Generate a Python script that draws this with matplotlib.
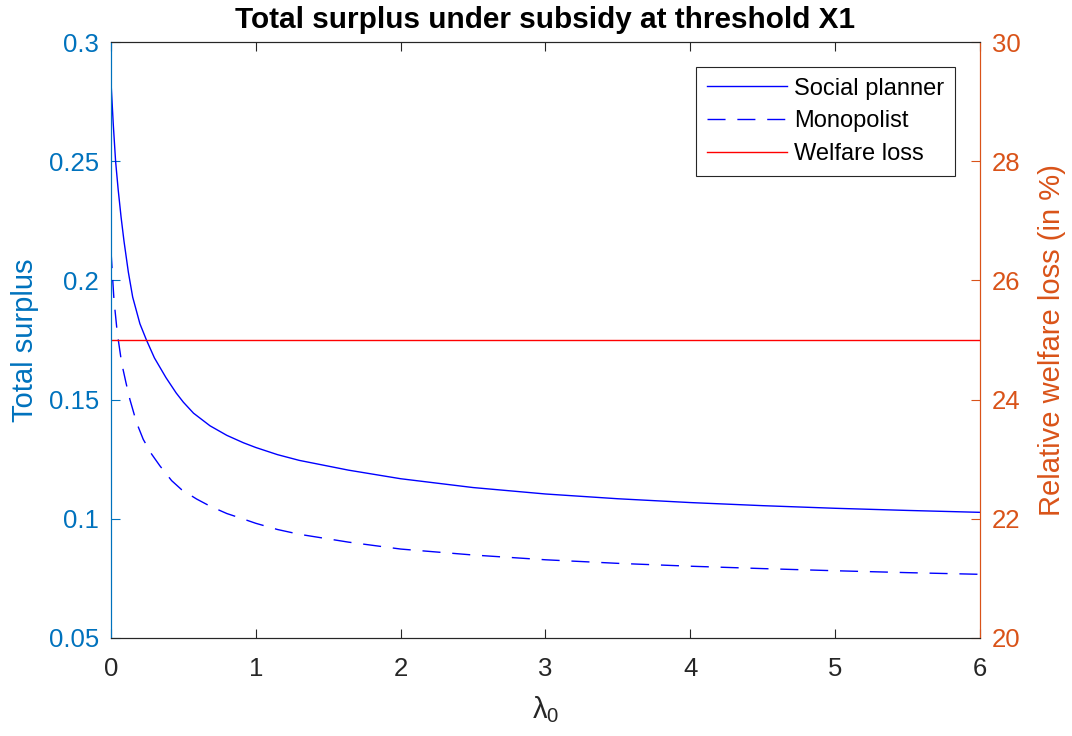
import matplotlib.pyplot as plt

plt.rcParams['font.family'] = ['Liberation Sans', 'DejaVu Sans']
plt.rcParams['mathtext.fontset'] = 'custom'
plt.rcParams['mathtext.rm'] = 'Liberation Sans'
plt.rcParams['mathtext.it'] = 'Liberation Sans:italic'

# values
lam_planner = [0, 0.016, 0.032, 0.05, 0.07, 0.09, 0.12, 0.15, 0.2, 0.245,
               0.3, 0.38, 0.45, 0.5, 0.57, 0.684, 0.8, 0.914, 1.0, 1.15,
               1.3, 1.64, 2.0, 2.5, 3.0, 3.5, 4.0, 4.5, 5.0, 5.5, 6.0]
surplus_planner = [0.2836, 0.2655, 0.2500, 0.2380, 0.2265, 0.2165, 0.2035, 0.1930, 0.1818, 0.1750,
                   0.1675, 0.1592, 0.1528, 0.1489, 0.1443, 0.1390, 0.1350, 0.1319, 0.1299, 0.1269,
                   0.1245, 0.1204, 0.1168, 0.1131, 0.1104, 0.1084, 0.1068, 0.1055, 0.1044, 0.1035, 0.1027]

lam_mono = [0, 0.011, 0.021, 0.044, 0.074, 0.104, 0.131, 0.177, 0.223, 0.281,
            0.338, 0.419, 0.488, 0.591, 0.684, 0.8, 0.914, 1.0, 1.15, 1.3,
            1.64, 2.0, 2.5, 3.0, 3.5, 4.0, 4.5, 5.0, 5.5, 6.0]
surplus_mono = [0.2127, 0.2015, 0.1917, 0.1778, 0.1653, 0.1570, 0.1500, 0.1403, 0.1333, 0.1271,
                0.1222, 0.1160, 0.1122, 0.1083, 0.1053, 0.1022, 0.0999, 0.0981, 0.0955, 0.0935,
                0.0902, 0.0873, 0.0848, 0.0828, 0.0813, 0.0801, 0.0791, 0.0782, 0.0774, 0.0767]

lam_loss = [0, 6]
welfare_loss = [25.0, 25.0]

blue_ax = '#0072BD'
orange_ax = '#D95319'
dark = '#262626'

fig = plt.figure(figsize=(10.72, 7.36), dpi=100)
ax = fig.add_axes([0.1035, 0.1332, 0.8107, 0.8097])
ax2 = ax.twinx()

l1, = ax.plot(lam_planner, surplus_planner, color='blue', lw=1.0)
l2, = ax.plot(lam_mono, surplus_mono, color='blue', lw=1.0, linestyle=(0, (13, 8.5)))
l3, = ax2.plot(lam_loss, welfare_loss, color='red', lw=1.0)

ax.set_xlim(0, 6)
ax.set_ylim(0.05, 0.3)
ax2.set_ylim(20, 30)
ax.set_xticks(range(7))
ax.set_yticks([0.05, 0.1, 0.15, 0.2, 0.25, 0.3])
ax.set_yticklabels(['0.05', '0.1', '0.15', '0.2', '0.25', '0.3'])
ax2.set_yticks([20, 22, 24, 26, 28, 30])

fs = 18.5
ax.tick_params(axis='x', direction='in', length=6.5, width=0.8, colors=dark,
               labelsize=fs, top=True, pad=14)
ax.tick_params(axis='y', direction='in', length=6.5, width=0.8, colors=blue_ax,
               labelsize=fs, pad=8.5)
ax2.tick_params(axis='y', direction='in', length=6.5, width=0.8, colors=orange_ax,
                labelsize=fs, pad=8.5)

for a in (ax, ax2):
    a.spines['top'].set_color(dark)
    a.spines['bottom'].set_color(dark)
    a.spines['left'].set_color(blue_ax)
    a.spines['right'].set_color(orange_ax)
    for s in a.spines.values():
        s.set_linewidth(0.8)

ax.set_ylabel('Total surplus', color=blue_ax, fontsize=21, labelpad=7)
ax2.set_ylabel('Relative welfare loss (in %)', color=orange_ax, fontsize=21, labelpad=12.5)
ax.set_xlabel(r'$\mathrm{\lambda}_0$', color=dark, fontsize=21, labelpad=9)
ax.set_title('Total surplus under subsidy at threshold X1', fontsize=21.4,
             fontweight='bold', pad=10)

leg = ax2.legend([l1, l2, l3], ['Social planner', 'Monopolist', 'Welfare loss'],
                 loc='upper right', fontsize=17, fancybox=False, framealpha=1,
                 edgecolor=dark, handlelength=3.4, handletextpad=0.3,
                 borderpad=0.45, labelspacing=0.45, borderaxespad=0,
                 bbox_to_anchor=(0.9712, 0.958))
leg.get_frame().set_linewidth(0.8)

fig.savefig('out.png', dpi=100)
